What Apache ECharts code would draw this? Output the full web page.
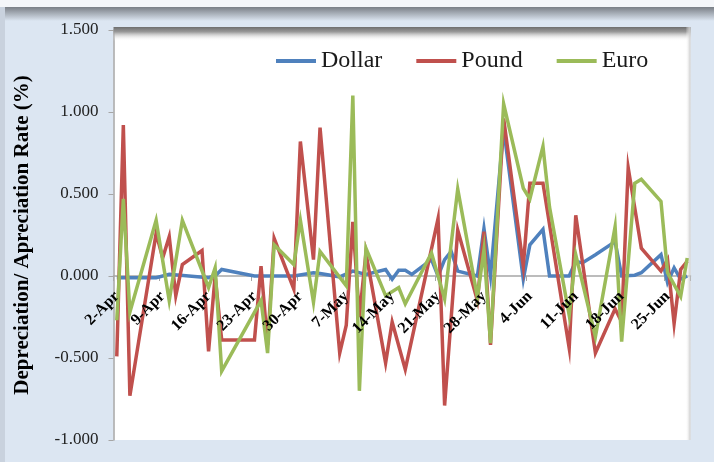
<!DOCTYPE html>
<html>
<head>
<meta charset="utf-8">
<script src="https://cdn.jsdelivr.net/npm/echarts@6/dist/echarts.min.js"></script>
<style>
  html, body { margin: 0; padding: 0; background: #dce6f2; }
  #main { width: 714px; height: 462px; }
</style>
</head>
<body>
<div id="main"></div>
<script>
// calendar days on the axis, 2-Apr .. 28-Jun
var months = ['Apr', 'May', 'Jun'];
var firstDay = [2, 1, 1];
var lastDay = [30, 31, 28];
var days = [];
for (var m = 0; m < months.length; m++) {
    for (var d = firstDay[m]; d <= lastDay[m]; d++) {
        days.push(d + '-' + months[m]);
    }
}

var yTicks = [-1, -0.5, 0, 0.5, 1, 1.5];

// [day, rate %]
var dollar = [
    ['2-Apr', -0.01], ['8-Apr', -0.01], ['10-Apr', 0.01], ['16-Apr', -0.01], ['17-Apr', 0.0],
    ['18-Apr', 0.04], ['23-Apr', 0.0], ['29-Apr', 0.0], ['2-May', 0.02], ['3-May', 0.015],
    ['6-May', -0.005], ['8-May', 0.03], ['10-May', 0.01], ['13-May', 0.04], ['14-May', -0.02],
    ['15-May', 0.035], ['16-May', 0.035], ['17-May', 0.01], ['20-May', 0.10], ['21-May', 0.0],
    ['22-May', 0.10], ['23-May', 0.15], ['24-May', 0.03], ['27-May', 0.0], ['28-May', 0.29],
    ['29-May', 0.0], ['31-May', 0.90], ['3-Jun', -0.02], ['4-Jun', 0.19], ['6-Jun', 0.285],
    ['7-Jun', 0.0], ['10-Jun', 0.0], ['11-Jun', 0.09], ['12-Jun', 0.08], ['14-Jun', 0.13],
    ['17-Jun', 0.21], ['18-Jun', 0.0], ['20-Jun', 0.005], ['21-Jun', 0.02], ['24-Jun', 0.13],
    ['25-Jun', -0.04], ['26-Jun', 0.05], ['27-Jun', -0.02], ['28-Jun', 0.0]
];

var pound = [
    ['2-Apr', -0.49], ['3-Apr', 0.92], ['4-Apr', -0.73], ['8-Apr', 0.26], ['9-Apr', 0.11],
    ['10-Apr', 0.24], ['11-Apr', -0.12], ['12-Apr', 0.07], ['15-Apr', 0.155], ['16-Apr', -0.46],
    ['17-Apr', 0.0], ['18-Apr', -0.39], ['23-Apr', -0.39], ['24-Apr', 0.06], ['25-Apr', -0.42],
    ['26-Apr', 0.23], ['29-Apr', -0.08], ['30-Apr', 0.82], ['2-May', 0.10], ['3-May', 0.905],
    ['6-May', -0.47], ['7-May', -0.30], ['8-May', 0.33], ['9-May', -0.25], ['10-May', 0.14],
    ['13-May', -0.53], ['14-May', -0.28], ['16-May', -0.57], ['21-May', 0.35], ['22-May', -0.79],
    ['24-May', 0.28], ['27-May', -0.15], ['28-May', 0.27], ['29-May', -0.42], ['31-May', 0.96],
    ['3-Jun', 0.06], ['4-Jun', 0.565], ['6-Jun', 0.565], ['10-Jun', -0.44], ['11-Jun', 0.37],
    ['14-Jun', -0.47], ['17-Jun', -0.20], ['18-Jun', -0.28], ['19-Jun', 0.66], ['21-Jun', 0.17],
    ['24-Jun', 0.03], ['25-Jun', 0.10], ['26-Jun', -0.29], ['27-Jun', 0.04], ['28-Jun', 0.09]
];

var euro = [
    ['2-Apr', -0.27], ['3-Apr', 0.47], ['4-Apr', -0.22], ['8-Apr', 0.34], ['10-Apr', -0.15],
    ['12-Apr', 0.34], ['16-Apr', -0.07], ['17-Apr', 0.05], ['18-Apr', -0.58], ['24-Apr', -0.15],
    ['25-Apr', -0.47], ['26-Apr', 0.19], ['29-Apr', 0.07], ['30-Apr', 0.34], ['2-May', -0.16],
    ['3-May', 0.15], ['7-May', -0.06], ['8-May', 1.10], ['9-May', -0.70], ['10-May', 0.17],
    ['13-May', -0.12], ['15-May', -0.07], ['16-May', -0.17], ['20-May', 0.14], ['22-May', -0.14],
    ['24-May', 0.53], ['27-May', -0.13], ['28-May', 0.16], ['29-May', -0.41], ['31-May', 1.05],
    ['3-Jun', 0.535], ['4-Jun', 0.47], ['6-Jun', 0.79], ['7-Jun', 0.42], ['10-Jun', -0.24],
    ['11-Jun', 0.13], ['14-Jun', -0.37], ['17-Jun', 0.30], ['18-Jun', -0.40], ['20-Jun', 0.565],
    ['21-Jun', 0.59], ['24-Jun', 0.455], ['25-Jun', 0.02], ['27-Jun', -0.125], ['28-Jun', 0.11]
];

var serif = '"Liberation Serif", "Times New Roman", serif';
var chart = echarts.init(document.getElementById('main'));

var gridL = 113.5, gridR = 23.5, gridT = 30, gridB = 22;
var yMin = yTicks[0], yMax = yTicks[yTicks.length - 1];
var plotH = 462 - gridT - gridB;
// the date axis crosses the value axis at 0
var zeroOffset = -plotH * (0 - yMin) / (yMax - yMin);

var lineSeries = function (name, data, color) {
    return {
        name: name,
        type: 'line',
        data: data,
        showSymbol: false,
        symbol: 'none',
        lineStyle: { color: color, width: 3.5, join: 'miter' },
        itemStyle: { color: color }
    };
};

var option = {
    backgroundColor: '#dce6f2',
    animation: false,
    graphic: [
        // top band of the outer frame
        { type: 'rect', left: 0, top: 0, shape: { width: 714, height: 7 }, style: { fill: '#f4f6f9' }, silent: true },
        { type: 'rect', left: 0, top: 7, shape: { width: 714, height: 14 }, silent: true,
          style: { fill: new echarts.graphic.LinearGradient(0, 0, 0, 1, [
              { offset: 0, color: '#7a7f86' }, { offset: 1, color: '#dce6f2' }]) } },
        { type: 'rect', left: 0, top: 7, shape: { width: 5, height: 455 }, silent: true,
          style: { fill: '#c9d2de' } },
        // shadow along the top of the plot area
        { type: 'rect', left: gridL, top: 27, shape: { width: 714 - gridL - gridR, height: 14 }, silent: true, z: 1,
          style: { fill: new echarts.graphic.LinearGradient(0, 0, 0, 1, [
              { offset: 0, color: '#6e6e6e' }, { offset: 0.35, color: '#9a9a9a' }, { offset: 1, color: 'rgba(255,255,255,0)' }]) } },
        { type: 'rect', right: gridR, top: 27, shape: { width: 5, height: 462 - 27 - gridB }, silent: true, z: 1,
          style: { fill: new echarts.graphic.LinearGradient(0, 0, 1, 0, [
              { offset: 0, color: 'rgba(255,255,255,0)' }, { offset: 1, color: '#c8c8c8' }]) } }
    ],
    grid: {
        left: gridL, right: gridR, top: gridT, bottom: gridB,
        outerBoundsMode: 'none',
        containLabel: false,
        show: true, backgroundColor: '#ffffff', borderWidth: 0
    },
    legend: {
        data: ['Dollar', 'Pound', 'Euro'],
        left: 271, top: 44,
        icon: 'rect',
        itemWidth: 40, itemHeight: 4, itemGap: 34,
        textStyle: { fontFamily: serif, fontSize: 24, color: '#1a1a1a' }
    },
    xAxis: [{
        // zero line and ticks, under the series
        type: 'category',
        data: days,
        boundaryGap: true,
        position: 'bottom',
        offset: zeroOffset,
        axisLine: { onZero: false, lineStyle: { color: '#a6a6a6', width: 1.5 } },
        axisTick: { show: true, interval: 6, length: 5, lineStyle: { color: '#a6a6a6' } },
        axisLabel: { show: false },
        splitLine: { show: false }
    }, {
        // date labels, drawn over the series
        type: 'category',
        data: days,
        boundaryGap: true,
        position: 'bottom',
        offset: zeroOffset,
        z: 5,
        axisLine: { show: false, onZero: false },
        axisTick: { show: false },
        axisLabel: {
            interval: 6, rotate: 45, margin: 18,
            fontFamily: serif, fontSize: 16, fontWeight: 'bold', color: '#000'
        },
        splitLine: { show: false }
    }],
    yAxis: {
        type: 'value',
        min: yMin, max: yMax, interval: 0.5,
        name: 'Depreciation/ Apreciation Rate (%)',
        nameLocation: 'middle', nameGap: 80,
        nameTextStyle: { fontFamily: serif, fontSize: 21, fontWeight: 'bold', color: '#000' },
        axisLine: { show: true, lineStyle: { color: '#a6a6a6', width: 1.5 } },
        axisTick: { show: true, length: 5, lineStyle: { color: '#a6a6a6' } },
        axisLabel: {
            margin: 15, fontFamily: serif, fontSize: 17, color: '#222',
            formatter: function (v) { return v.toFixed(3); }
        },
        splitLine: { show: false }
    },
    series: [
        lineSeries('Dollar', dollar, '#4f81bd'),
        lineSeries('Pound', pound, '#c0504d'),
        lineSeries('Euro', euro, '#9bbb59')
    ]
};

chart.setOption(option);
</script>
</body>
</html>
